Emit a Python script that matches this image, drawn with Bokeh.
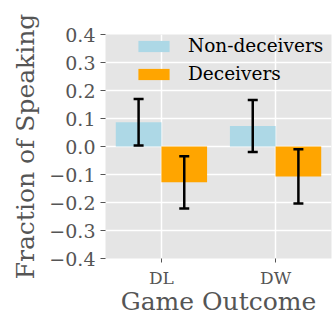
import numpy as np
from bokeh.plotting import figure
from bokeh.models import (FixedTicker, CustomJSTickFormatter, Whisker, TeeHead,
                          ColumnDataSource, Range1d, Legend, LegendItem)
from bokeh.embed import file_html
from bokeh.resources import INLINE

categories = ["DL", "DW"]
nondeceivers = [0.087, 0.073]
nondeceivers_err = [0.083, 0.093]
deceivers = [-0.128, -0.107]
deceivers_err = [0.093, 0.097]
series_names = ["Non-deceivers", "Deceivers"]
y_ticks = [-0.4, -0.3, -0.2, -0.1, 0.0, 0.1, 0.2, 0.3, 0.4]

SERIF = "DejaVu Serif"
GRAY = "#555555"
BAR_W = 0.4

x = np.arange(len(categories), dtype=float)
src_n = ColumnDataSource(dict(
    x=x - BAR_W / 2, top=nondeceivers,
    lo=np.array(nondeceivers) - np.array(nondeceivers_err),
    hi=np.array(nondeceivers) + np.array(nondeceivers_err)))
src_d = ColumnDataSource(dict(
    x=x + BAR_W / 2, top=deceivers,
    lo=np.array(deceivers) - np.array(deceivers_err),
    hi=np.array(deceivers) + np.array(deceivers_err)))

p = figure(width=332, height=318, output_backend="svg", toolbar_location=None,
           x_range=Range1d(-0.49, 1.49), y_range=Range1d(-0.4, 0.4),
           min_border_left=105, min_border_right=1, min_border_top=34,
           min_border_bottom=60)
p.background_fill_color = "#E5E5E5"
p.border_fill_color = "white"
p.outline_line_color = None

r_n = p.vbar(x="x", top="top", bottom=0, width=BAR_W, source=src_n,
             fill_color="#ADD8E6", line_color=None)
r_d = p.vbar(x="x", top="top", bottom=0, width=BAR_W, source=src_d,
             fill_color="#FFA500", line_color=None)

for src in (src_n, src_d):
    w = Whisker(base="x", lower="lo", upper="hi", source=src, level="overlay",
                line_color="black", line_width=2.5,
                upper_head=TeeHead(size=10, line_color="black", line_width=2.5),
                lower_head=TeeHead(size=10, line_color="black", line_width=2.5))
    p.add_layout(w)

# grids
p.xgrid.ticker = FixedTicker(ticks=list(x))
p.ygrid.ticker = FixedTicker(ticks=y_ticks)
for g in (p.xgrid, p.ygrid):
    g.grid_line_color = "white"
    g.grid_line_width = 1.5

# axes
p.xaxis.ticker = FixedTicker(ticks=list(x))
p.xaxis.major_label_overrides = {float(i): c for i, c in zip(x, categories)}
p.yaxis.ticker = FixedTicker(ticks=y_ticks)
p.yaxis.formatter = CustomJSTickFormatter(
    code="return (tick < -1e-9 ? '\u2212' : '') + Math.abs(tick).toFixed(1);")

for ax in (p.xaxis, p.yaxis):
    ax.axis_line_color = None
    ax.major_tick_line_color = GRAY
    ax.major_tick_line_width = 1
    ax.major_tick_in = 0
    ax.major_tick_out = 5
    ax.minor_tick_line_color = None
    ax.major_label_text_font = SERIF
    ax.major_label_text_color = GRAY
    ax.major_label_standoff = 5
    ax.axis_label_text_font = SERIF
    ax.axis_label_text_font_style = "normal"
    ax.axis_label_text_color = GRAY
    ax.axis_label_text_font_size = "25px"

p.yaxis.major_label_text_font_size = "19px"
p.xaxis.major_label_text_font_size = "17px"
p.xaxis.major_tick_out = 4
p.xaxis.major_label_standoff = 5
p.yaxis.axis_label = "Fraction of Speaking"
p.xaxis.axis_label = "Game Outcome"
p.yaxis.axis_label_standoff = 6
p.xaxis.axis_label_standoff = -4

legend = Legend(items=[LegendItem(label=series_names[0], renderers=[r_n]),
                       LegendItem(label=series_names[1], renderers=[r_d])],
                location=(29, 174))
legend.label_text_font = SERIF
legend.label_text_font_size = "18.5px"
legend.label_text_color = "black"
legend.glyph_width = 39
legend.glyph_height = 14
legend.label_standoff = 15
legend.spacing = 7
legend.padding = 0
legend.margin = 0
legend.border_line_alpha = 0
legend.background_fill_alpha = 0
p.add_layout(legend)

open("out.html", "w").write(file_html(p, INLINE))
